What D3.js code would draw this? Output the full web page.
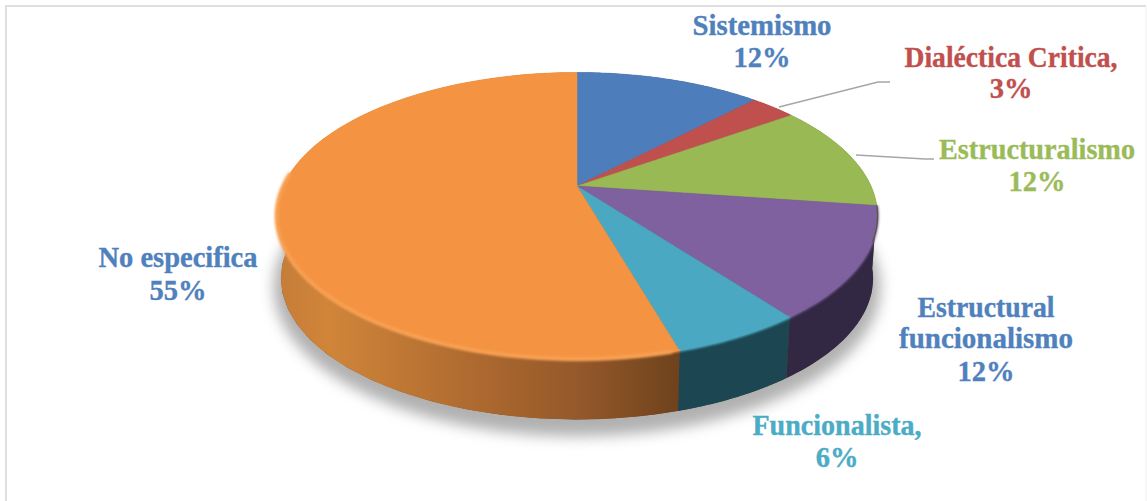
<!DOCTYPE html>
<html><head><meta charset="utf-8">
<script src="https://cdn.jsdelivr.net/npm/d3@7/dist/d3.min.js"></script>
<style>html,body{margin:0;padding:0;background:#fff}svg{display:block}</style>
</head><body><svg id="c" width="1147" height="501"></svg>
<script>
const categories = ["Sistemismo","Dialéctica Critica","Estructuralismo","Estructural funcionalismo","Funcionalista","No especifica"];
const values = [12.2,3,12,12.49,5.81,54.5];
const labelLines = [["Sistemismo","12%"],["Dialéctica Critica,","3%"],["Estructuralismo","12%"],["Estructural","funcionalismo","12%"],["Funcionalista,","6%"],["No especifica","55%"]];
const topColors = ["#4d7ebb","#c0504d","#99b955","#7f619f","#4aa8c2","#f49443"];
const sideColors = ["#2a4565","#672a28","#5c7030","#332843","#1d4653","url(#orangeSide)"];
const labelColors = ["#4f81bd","#c0504d","#9bbb59","#4f81bd","#4bacc6","#4f81bd"];

// layout of the picture (not data)
const W=1147,H=501;
const cx=577, persp=0.208;
const topDisc={cy:186,rx:294,ry:137.2}, botDisc={cy:249,rx:289.6,ry:135};
const labelPos=[
 {x:762,y:[35,67],w:[139]},{x:1011,y:[67,98],w:[213]},{x:1037,y:[159,191],w:[196]},
 {x:986,y:[317,348,381],w:[137,174]},{x:837,y:[435,467],w:[169]},{x:178,y:[267,300],w:[159]}];
const leaders={1:[[779,107],[878,82],[890,82]],2:[[856,155],[925,159],[934,159]]};

const svg=d3.select("#c");
const defs=svg.append("defs");
const blur=(id,s)=>defs.append("filter").attr("id",id).attr("x","-20%").attr("y","-20%").attr("width","140%").attr("height","140%")
  .append("feGaussianBlur").attr("stdDeviation",s);
blur("shadow",7); blur("soft",1.2); blur("rim",1.8);
const xPct=d3.scaleLinear().domain([0,1]).range([281,680]);
const g=defs.append("linearGradient").attr("id","orangeSide").attr("gradientUnits","userSpaceOnUse")
  .attr("x1",xPct(0)).attr("x2",xPct(1)).attr("y1",0).attr("y2",0);
[[0,"#c67d38"],[0.12,"#d08539"],[0.45,"#b16c30"],[0.75,"#94582a"],[1,"#6e421c"]]
  .forEach(([o,c])=>g.append("stop").attr("offset",o).attr("stop-color",c));

// frame
const fr=svg.append("g").attr("fill","none");
fr.append("line").attr("x1",6).attr("x2",6).attr("y1",5).attr("y2",H).attr("stroke","#dfdfdf").attr("stroke-width",2);
fr.append("line").attr("x1",5).attr("x2",1146).attr("y1",6).attr("y2",6).attr("stroke","#dfdfdf").attr("stroke-width",2);
fr.append("line").attr("x1",1146).attr("x2",1146).attr("y1",6).attr("y2",H).attr("stroke","#f0f0f0").attr("stroke-width",1);

const pie=d3.pie().sort(null).value(d=>d)(values);
const project=(disc,a)=>{const u=Math.sin(a),v=Math.cos(a),w=1+persp*v;
  return [cx+disc.rx*u/w, disc.cy-disc.ry*v/w];};
const arcPts=(disc,a0,a1)=>d3.range(0,61).map(i=>project(disc,a0+(a1-a0)*i/60));
const line=d3.line();
const full=(disc)=>line(arcPts(disc,0,2*Math.PI))+"Z";

// soft shadow beneath the disc
svg.append("path").attr("d",full({cy:256,rx:297,ry:143})).attr("fill","#909090").attr("opacity",.7).attr("filter","url(#shadow)");
svg.append("path").attr("d",full(botDisc)).attr("fill","#6e421c");

// side walls
svg.append("g").selectAll("path").data(pie).join("path")
  .attr("d",d=>line(arcPts(topDisc,d.startAngle,d.endAngle).concat(arcPts(botDisc,d.startAngle,d.endAngle).reverse()))+"Z")
  .attr("fill",(d,i)=>sideColors[i]);

// top face
const apex=[cx,topDisc.cy];
svg.append("g").selectAll("path").data(pie).join("path")
  .attr("d",d=>line([apex].concat(arcPts(topDisc,d.startAngle,d.endAngle)))+"Z")
  .attr("fill",(d,i)=>topColors[i]).attr("stroke",(d,i)=>topColors[i]).attr("stroke-width",.5);

// rim softening at the face/wall junction (front slices only)
svg.append("g").attr("filter","url(#soft)").attr("fill","none").selectAll("path").data(pie.slice(3)).join("path")
  .attr("d",d=>line(arcPts(topDisc,d.startAngle,Math.min(d.endAngle,d.startAngle+(d.index===5?1.95:9)))))
  .attr("stroke",d=>topColors[d.index]).attr("stroke-width",2.5);

// bevel highlight on the orange rim
svg.append("path").datum(pie[5])
  .attr("d",d=>line(arcPts(topDisc,d.startAngle+.02,d.startAngle+1.95)))
  .attr("fill","none").attr("stroke","#fcab62").attr("stroke-width",3).attr("opacity",.75).attr("filter","url(#rim)");

// dark edge on the green slice where the wall turns out of sight
svg.append("path").datum(pie[2])
  .attr("d",d=>line(arcPts(topDisc,d.startAngle+1.0,d.endAngle)))
  .attr("fill","none").attr("stroke","#4a5a2c").attr("stroke-width",1.4).attr("opacity",.8);

// leader lines
svg.append("g").selectAll("path").data(Object.values(leaders)).join("path")
  .attr("d",d=>line(d)).attr("fill","none").attr("stroke","#a6a6a6").attr("stroke-width",1.6);

// labels
const lab=svg.append("g").attr("font-family","'Liberation Serif',serif").attr("font-weight","bold")
  .attr("font-size",28.5).attr("text-anchor","middle");
labelLines.forEach((ls,i)=>ls.forEach((t,j)=>{
  const el=lab.append("text").attr("x",labelPos[i].x).attr("y",labelPos[i].y[j])
    .attr("fill",labelColors[i]).attr("stroke",labelColors[i]).attr("stroke-width",.35).text(t);
  if(labelPos[i].w[j]) el.attr("textLength",labelPos[i].w[j]).attr("lengthAdjust","spacingAndGlyphs");
}));
</script></body></html>
